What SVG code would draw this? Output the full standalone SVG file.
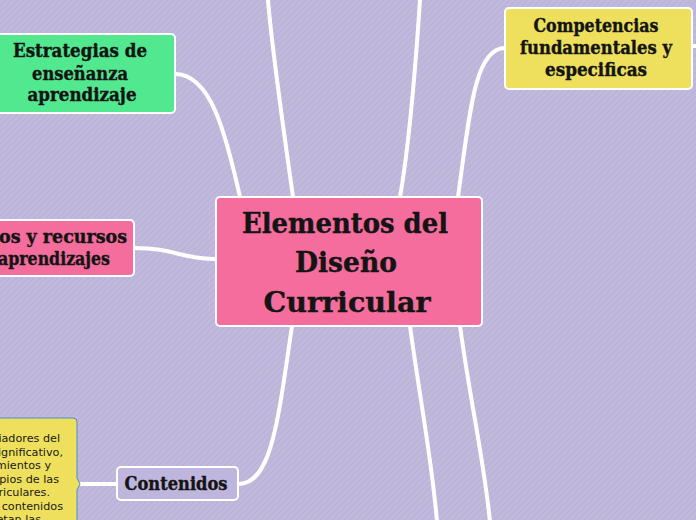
<svg xmlns="http://www.w3.org/2000/svg" width="696" height="520" viewBox="0 0 696 520">
<style>
.conn{fill:none;stroke:#ffffff;stroke-width:4;stroke-linecap:round}
.node{stroke:#ffffff;stroke-width:2}
.t{font-family:"DejaVu Serif","Liberation Serif",serif;font-weight:bold;fill:#141414;stroke:#141414;stroke-width:0.4;text-anchor:middle}
.note{font-family:"DejaVu Sans","Liberation Sans",sans-serif;font-size:11.2px;fill:#1a1a1a;text-anchor:end}
</style>
<defs>
<pattern id="bgp" width="6" height="6" patternUnits="userSpaceOnUse">
<rect width="6" height="6" fill="#c0b9dc"/>
<path d="M0,6 L6,0" stroke="#b6aed6" stroke-width="1"/>
</pattern>
</defs>
<rect width="696" height="520" fill="url(#bgp)"/>
<g id="connectors">
<path class="conn" d="M293,197 C285,140 272,50 268,0"/>
<path class="conn" d="M400,197 C410,140 416,60 420,0"/>
<path class="conn" d="M458,197 C470,110 475,48 505,48"/>
<path class="conn" d="M175,74 C210,74 225,130 240,197"/>
<path class="conn" d="M134,248 C175,248 180,259 216,259"/>
<path class="conn" d="M292,326 C278,420 272,484 238,484"/>
<path class="conn" d="M410,326 C420,400 432,460 437,522"/>
<path class="conn" d="M460,326 C470,400 484,460 490,522"/>
<path class="conn" d="M117,484 L80,484"/>
<path class="conn" d="M692,46 L698,46"/>
</g>
<g id="main">
<rect class="node" x="216" y="197" width="266" height="129" rx="4" fill="#f46d9c"/>
<text class="t" font-size="28" x="345" y="233" textLength="206" lengthAdjust="spacingAndGlyphs">Elementos del</text>
<text class="t" font-size="28" x="346" y="272" textLength="102" lengthAdjust="spacingAndGlyphs">Diseño</text>
<text class="t" font-size="28" x="347" y="312" textLength="167" lengthAdjust="spacingAndGlyphs">Curricular</text>
</g>
<g id="estrategias">
<rect class="node" x="-20" y="34" width="195" height="79" rx="4" fill="#52e890"/>
<text class="t" font-size="18" x="80" y="57" textLength="134" lengthAdjust="spacingAndGlyphs">Estrategias de</text>
<text class="t" font-size="18" x="80" y="80" textLength="96" lengthAdjust="spacingAndGlyphs">enseñanza</text>
<text class="t" font-size="18" x="82" y="101" textLength="109" lengthAdjust="spacingAndGlyphs">aprendizaje</text>
</g>
<g id="recursos">
<rect class="node" x="-60" y="220" width="194" height="56" rx="4" fill="#f46d9c"/>
<text class="t" font-size="18" x="63" y="243" textLength="128" lengthAdjust="spacingAndGlyphs">os y recursos</text>
<text class="t" font-size="18" x="54" y="265" textLength="112" lengthAdjust="spacingAndGlyphs">aprendizajes</text>
</g>
<g id="competencias">
<rect class="node" x="505" y="8" width="187" height="81" rx="4" fill="#eee05c"/>
<text class="t" font-size="18" x="596" y="32" textLength="125" lengthAdjust="spacingAndGlyphs">Competencias</text>
<text class="t" font-size="18" x="596" y="54" textLength="152" lengthAdjust="spacingAndGlyphs">fundamentales y</text>
<text class="t" font-size="18" x="596" y="76" textLength="102" lengthAdjust="spacingAndGlyphs">especificas</text>
</g>
<g id="contenidos">
<rect class="node" x="117" y="467" width="121" height="33" rx="4" fill="#bfb6dd"/>
<text class="t" font-size="18" x="176" y="490" textLength="103" lengthAdjust="spacingAndGlyphs">Contenidos</text>
</g>
<g id="nota">
<path d="M-5,418 L73,418 Q77,418 77,422 L77,478 L80,484 L77,490 L77,530 L-5,530 Z" fill="#eee05c" stroke="#4a90c8" stroke-width="1"/>
<text class="note" x="60" y="442">iadores del</text>
<text class="note" x="63" y="455.5">ignificativo,</text>
<text class="note" x="51" y="469">mientos y</text>
<text class="note" x="59" y="482.5">pios de las</text>
<text class="note" x="50" y="496">riculares.</text>
<text class="note" x="63" y="509.5">contenidos</text>
<text class="note" x="41" y="523">etan las</text>
</g>
</svg>
